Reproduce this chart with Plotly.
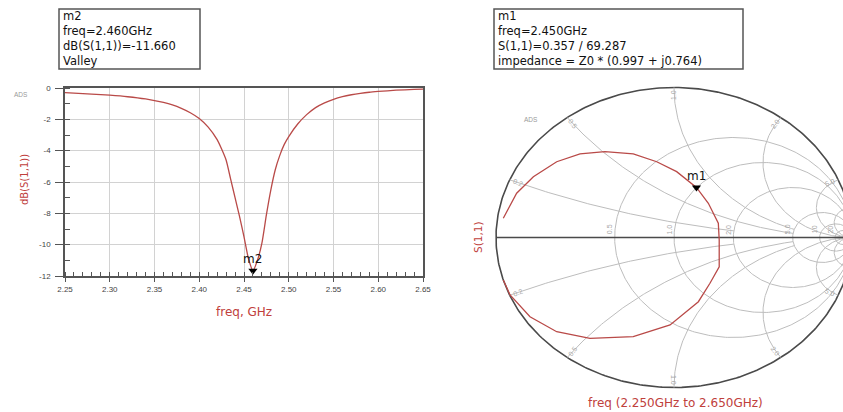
import numpy as np
import plotly.graph_objects as go

# ---------------- data ----------------
freq_ghz = [2.25, 2.27, 2.29, 2.30, 2.32, 2.34, 2.35, 2.36, 2.37, 2.38, 2.39, 2.40,
            2.41, 2.42, 2.425, 2.43, 2.435, 2.44, 2.445, 2.45, 2.455, 2.46, 2.465,
            2.47, 2.475, 2.48, 2.485, 2.49, 2.495, 2.50, 2.51, 2.52, 2.53, 2.54,
            2.55, 2.56, 2.57, 2.58, 2.59, 2.60, 2.62, 2.64, 2.65]
s11_db = [-0.30, -0.36, -0.42, -0.46, -0.56, -0.70, -0.80, -0.92, -1.08, -1.30, -1.58, -1.95,
          -2.50, -3.30, -3.90, -4.60, -5.80, -7.00, -8.20, -9.50, -10.90, -11.66, -11.00,
          -9.90, -8.10, -6.50, -5.20, -4.30, -3.60, -3.10, -2.30, -1.70, -1.25, -0.95,
          -0.72, -0.55, -0.43, -0.34, -0.27, -0.22, -0.14, -0.09, -0.07]

# S(1,1) trace on the Smith chart (reflection coefficient, real / imaginary)
smith_re = [-0.959, -0.884, -0.790, -0.659, -0.528, -0.388, -0.229, -0.097, 0.015, 0.126,
            0.193, 0.249, 0.254, 0.254, 0.202, 0.137, -0.022, -0.229, -0.472, -0.659,
            -0.809, -0.921, -0.959]
smith_im = [0.128, 0.295, 0.405, 0.505, 0.557, 0.572, 0.557, 0.505, 0.439, 0.334,
            0.228, 0.095, -0.017, -0.195, -0.305, -0.428, -0.583, -0.661, -0.672, -0.628,
            -0.528, -0.383, -0.283]

x_ticks = [2.25, 2.30, 2.35, 2.40, 2.45, 2.50, 2.55, 2.60, 2.65]
x_tick_text = ["2.25", "2.30", "2.35", "2.40", "2.45", "2.50", "2.55", "2.60", "2.65"]
y_ticks = [0, -2, -4, -6, -8, -10, -12]
y_tick_text = ["0", "-2", "-4", "-6", "-8", "-10", "-12"]

m2_freq = 2.460
m2_db = -11.660
m1_freq = 2.450
m1_mag = 0.357
m1_ang = 69.287
m1_imp = (0.997, 0.764)

r_circles = [0.5, 1.0, 2.0, 5.0, 10.0, 20.0]
x_arcs = [(0.2, 2.0), (0.5, 5.0), (1.0, 5.0), (2.0, 1e4), (5.0, 1e4), (10.0, 1e4)]
r_labels = ["0.5", "1.0", "2.0", "5.0", "10", "20"]
x_labels = ["0.2", "0.5", "1.0", "2.0", "5.0"]
x_label_vals = [0.2, 0.5, 1.0, 2.0, 5.0]

# ---------------- figure ----------------
W, H = 843, 412
RED = "#c0403c"
CURVE = "#b94a48"
GRID = "#d2d2d2"
AXC = "#555555"
SGRID = "#bdbdbd"


def px(x):
    return x / W


def py(y):
    return 1 - y / H


fig = go.Figure()

# ---- left: dB(S11) vs freq ----
fig.add_trace(go.Scatter(x=freq_ghz, y=s11_db, mode="lines",
                         line=dict(color=CURVE, width=1.3, shape="spline", smoothing=0.6),
                         xaxis="x", yaxis="y", hoverinfo="skip", showlegend=False))
fig.add_trace(go.Scatter(x=[m2_freq], y=[m2_db], mode="markers",
                         marker=dict(symbol="triangle-down", size=8, color="black"),
                         xaxis="x", yaxis="y", showlegend=False, hoverinfo="skip",
                         cliponaxis=False))

# ---- right: Smith chart ----
t = np.linspace(0, 2 * np.pi, 400)
fig.add_trace(go.Scatter(x=np.cos(t), y=np.sin(t), mode="lines",
                         line=dict(color="#4a4a4a", width=1.6),
                         xaxis="x2", yaxis="y2", hoverinfo="skip", showlegend=False))
for r in r_circles:
    c = r / (1 + r)
    R = 1 / (1 + r)
    fig.add_trace(go.Scatter(x=c + R * np.cos(t), y=R * np.sin(t), mode="lines",
                             line=dict(color=SGRID, width=1),
                             xaxis="x2", yaxis="y2", hoverinfo="skip", showlegend=False))
for xv, rmax in x_arcs:
    rs = np.concatenate([np.linspace(0, 1, 80), np.geomspace(1, rmax, 200)])
    for s in (1, -1):
        z = rs + 1j * s * xv
        g = (z - 1) / (z + 1)
        fig.add_trace(go.Scatter(x=g.real, y=g.imag, mode="lines",
                                 line=dict(color=SGRID, width=1),
                                 xaxis="x2", yaxis="y2", hoverinfo="skip", showlegend=False))
fig.add_trace(go.Scatter(x=[-1, 1], y=[0, 0], mode="lines",
                         line=dict(color="#4a4a4a", width=1.6),
                         xaxis="x2", yaxis="y2", hoverinfo="skip", showlegend=False))
fig.add_trace(go.Scatter(x=smith_re, y=smith_im, mode="lines",
                         line=dict(color=CURVE, width=1.3),
                         xaxis="x2", yaxis="y2", hoverinfo="skip", showlegend=False))
m1_re = m1_mag * np.cos(np.radians(m1_ang))
m1_im = m1_mag * np.sin(np.radians(m1_ang))
fig.add_trace(go.Scatter(x=[m1_re], y=[m1_im], mode="markers",
                         marker=dict(symbol="triangle-down", size=8, color="black"),
                         xaxis="x2", yaxis="y2", showlegend=False, hoverinfo="skip"))

annotations = []
TXT = dict(family="DejaVu Sans, Arial", size=11.5, color="#111")


def ptext(text, x, y, font, angle=0):
    annotations.append(dict(text=text, x=px(x), y=py(y), xref="paper", yref="paper",
                            xanchor="center", yanchor="middle", textangle=angle,
                            showarrow=False, font=font))


def box_text(x, lines):
    annotations.append(dict(text="<br>".join(lines), x=px(x), y=py(39), xref="paper",
                            yref="paper", xanchor="left", yanchor="middle", align="left",
                            showarrow=False, font=TXT))


box_text(61, ["m2", "freq=%.3fGHz" % m2_freq, "dB(S(1,1))=%.3f" % m2_db, "Valley"])
box_text(496, ["m1", "freq=%.3fGHz" % m1_freq, "S(1,1)=%.3f / %.3f" % (m1_mag, m1_ang),
               "impedance = Z0 * (%.3f + j%.3f)" % m1_imp])

MK = dict(family="DejaVu Sans", size=12, color="#111")
annotations.append(dict(text="m2", x=m2_freq, y=m2_db, xref="x", yref="y", yshift=12,
                        xanchor="center", yanchor="middle", showarrow=False, font=MK))
annotations.append(dict(text="m1", x=m1_re, y=m1_im, xref="x2", yref="y2", yshift=11,
                        xanchor="center", yanchor="middle", showarrow=False, font=MK))

ptext("dB(S(1,1))", 24, 180, dict(family="DejaVu Sans", size=10, color=RED), -90)
ptext("freq, GHz", 244, 312, dict(family="DejaVu Sans", size=12, color=RED))
ptext("S(1,1)", 478, 237, dict(family="DejaVu Sans", size=10.5, color=RED), -90)
ptext("freq (2.250GHz to 2.650GHz)", 675, 403, dict(family="DejaVu Sans", size=12, color=RED))
ptext("ADS", 21, 94, dict(family="Arial", size=6.5, color="#9a9a9a"))
ptext("ADS", 531, 120, dict(family="Arial", size=6.5, color="#9a9a9a"))

SL = dict(family="Arial", size=7, color="#a8a8a8")
for r, lab in zip(r_circles, r_labels):
    g0 = (r - 1) / (r + 1)
    annotations.append(dict(text=lab, x=g0, y=0, xref="x2", yref="y2", xshift=-5, yshift=8,
                            xanchor="center", yanchor="middle",
                            textangle=-90, showarrow=False, font=SL))
for xv, lab in zip(x_label_vals, x_labels):
    for s in (1, -1):
        g = (1j * s * xv - 1) / (1j * s * xv + 1)
        phi = np.degrees(np.angle(g))
        ang = -phi
        while ang > 90:
            ang -= 180
        while ang < -90:
            ang += 180
        annotations.append(dict(text=lab, x=g.real * 0.95, y=g.imag * 0.95, xref="x2", yref="y2",
                                xanchor="center", yanchor="middle",
                                textangle=ang, showarrow=False, font=SL))

shapes = [
    dict(type="rect", xref="paper", yref="paper", x0=px(59), x1=px(200), y0=py(69), y1=py(9),
         line=dict(color="#555", width=1.5)),
    dict(type="rect", xref="paper", yref="paper", x0=px(494), x1=px(743), y0=py(69), y1=py(9),
         line=dict(color="#555", width=1.5)),
]

TICKF = dict(family="Liberation Sans, Arial", size=8, color="#444")
fig.update_layout(
    width=W, height=H, margin=dict(l=0, r=0, t=0, b=0, autoexpand=False),
    paper_bgcolor="white", plot_bgcolor="white",
    showlegend=False, annotations=annotations, shapes=shapes,
    xaxis=dict(domain=[px(65), px(423)], range=[2.25, 2.65], tickmode="array",
               tickvals=x_ticks, ticktext=x_tick_text, ticks="outside", ticklen=4,
               tickcolor=AXC, showgrid=True, gridcolor=GRID, gridwidth=1,
               showline=True, linecolor=AXC, linewidth=1.5, mirror=True, zeroline=False,
               tickfont=TICKF, ticklabelstandoff=1, anchor="y",
               minor=dict(tick0=2.25, dtick=0.01, ticks="inside", ticklen=4,
                          tickcolor=AXC, showgrid=False)),
    yaxis=dict(domain=[py(276), py(88)], range=[-12, 0], tickmode="array",
               tickvals=y_ticks, ticktext=y_tick_text, ticks="outside", ticklen=8,
               tickcolor=AXC, showgrid=True, gridcolor=GRID, gridwidth=1,
               showline=True, linecolor=AXC, linewidth=1.5, mirror=True, zeroline=False,
               tickfont=TICKF, ticklabelstandoff=3, anchor="x",
               minor=dict(tick0=0, dtick=1, ticks="inside", ticklen=5,
                          tickcolor=AXC, showgrid=False)),
    xaxis2=dict(domain=[px(674 - 1.02 * 178), 1.0], range=[-1.02, (843 - 674) / 178],
                visible=False, anchor="y2"),
    yaxis2=dict(domain=[py(237.5 + 1.02 * 150), py(237.5 - 1.02 * 150)], range=[-1.02, 1.02],
                visible=False, anchor="x2"),
)

fig.write_html("out.html", config={"responsive": False, "displayModeBar": False},
               post_script="document.body.style.margin='0px';"
                           "document.body.style.overflow='hidden';")
